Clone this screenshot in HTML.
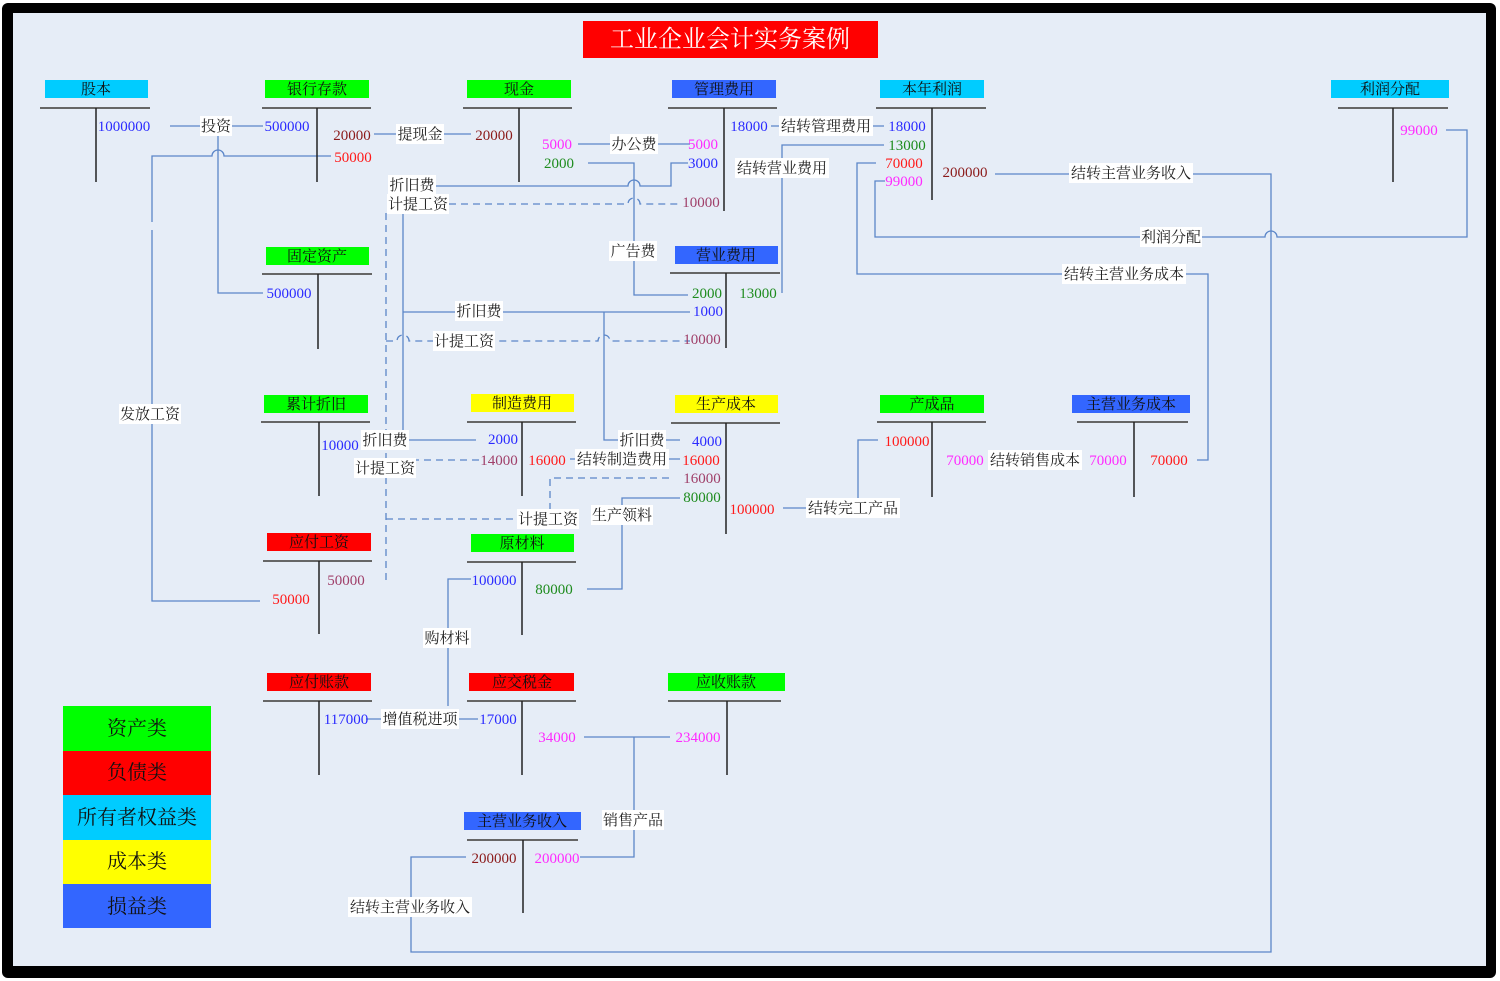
<!DOCTYPE html>
<html><head><meta charset="utf-8"><style>
html,body{margin:0;padding:0;background:#fff}
svg{display:block}
text{font-family:"Liberation Serif","Noto Serif CJK SC","Noto Sans CJK SC",serif;font-size:15px}
.h{font-size:15px;fill:#111;text-anchor:middle}
.n{text-anchor:middle}
.b{fill:#2b2bff}.m{fill:#ff2bff}.g{fill:#1e8c1e}.dr{fill:#8b1a1a}.r{fill:#ff1a1a}.p{fill:#a0406a}
.c{fill:none;stroke:#5b86c8;stroke-width:1.3}
.d{fill:none;stroke:#5b86c8;stroke-width:1.3;stroke-dasharray:7,5}
.hl{stroke:#666;stroke-width:2}
.vl{stroke:#222;stroke-width:1.5}
.lb{fill:#fff}
.lt{fill:#222;text-anchor:middle;font-size:15px}
</style></head><body>
<svg width="1500" height="981" viewBox="0 0 1500 981" xmlns="http://www.w3.org/2000/svg">
<rect x="2" y="3" width="1494" height="975" rx="6" fill="#000"/>
<rect x="13" y="13" width="1473" height="953" fill="#e6edf7"/>
<rect x="583" y="21" width="295" height="37" fill="#ff0000"/>
<text x="730" y="47" text-anchor="middle" style="font-size:24px;fill:#fff">工业企业会计实务案例</text>

<g>
<path class="c" d="M170 126H263"/>
<path class="c" d="M218 126V293H263"/>
<path class="c" d="M331 156H224a6 6 0 0 0 -12 0H152V222M152 230V601H260"/>
<path class="c" d="M374 134H471"/>
<path class="c" d="M578 144H690"/>
<path class="c" d="M588 163H634V295H688"/>
<path class="c" d="M688 163H671V186H640a6 6 0 0 0 -12 0H436"/>
<path class="c" d="M403 213V440H476"/>
<path class="c" d="M403 312H690"/>
<path class="c" d="M604 312V440H680"/>
<path class="d" d="M449 204H628a6 6 0 0 1 12 0H680"/>
<path class="d" d="M386 213V580"/>
<path class="d" d="M386 341H397a6 6 0 0 1 12 0H598a6 6 0 0 1 12 0H690"/>
<path class="d" d="M412 460H480"/>
<path class="d" d="M386 519H540"/>
<path class="d" d="M550 510V478H672"/>
<path class="c" d="M570 459H680"/>
<path class="c" d="M587 589H622V498H680"/>
<path class="c" d="M471 579H448V706"/>
<path class="c" d="M366 719H478"/>
<path class="c" d="M584 737H670M634 737V857H580"/>
<path class="c" d="M466 857H411V952H1271V174H995"/>
<path class="c" d="M783 508H900M858 498V440H878"/>
<path class="c" d="M1197 460H1208V274H857V163H876"/>
<path class="c" d="M1446 130H1467V237H1277a6 6 0 0 0 -12 0H875V181H885"/>
<path class="c" d="M771 126H884"/>
<path class="c" d="M782 293V145H884"/>
</g>

<g>
<rect x="45" y="80" width="103" height="18" fill="#00ccff"/><text class="h" x="96" y="94">股本</text>
<line class="hl" x1="40" y1="108" x2="150" y2="108"/><line class="vl" x1="96" y1="108" x2="96" y2="182"/>
<rect x="265" y="80" width="104" height="18" fill="#00ff00"/><text class="h" x="317" y="94">银行存款</text>
<line class="hl" x1="262" y1="108" x2="371" y2="108"/><line class="vl" x1="317" y1="108" x2="317" y2="182"/>
<rect x="467" y="80" width="104" height="18" fill="#00ff00"/><text class="h" x="519" y="94">现金</text>
<line class="hl" x1="463" y1="108" x2="572" y2="108"/><line class="vl" x1="519" y1="108" x2="519" y2="182"/>
<rect x="672" y="80" width="104" height="18" fill="#3366ff"/><text class="h" x="724" y="94">管理费用</text>
<line class="hl" x1="668" y1="108" x2="777" y2="108"/><line class="vl" x1="724" y1="108" x2="724" y2="211"/>
<rect x="880" y="80" width="104" height="18" fill="#00ccff"/><text class="h" x="932" y="94">本年利润</text>
<line class="hl" x1="876" y1="108" x2="986" y2="108"/><line class="vl" x1="932" y1="108" x2="932" y2="200"/>
<rect x="1331" y="80" width="118" height="18" fill="#00ccff"/><text class="h" x="1390" y="94">利润分配</text>
<line class="hl" x1="1338" y1="108" x2="1448" y2="108"/><line class="vl" x1="1393" y1="108" x2="1393" y2="182"/>
<rect x="266" y="247" width="103" height="18" fill="#00ff00"/><text class="h" x="317" y="261">固定资产</text>
<line class="hl" x1="262" y1="274" x2="372" y2="274"/><line class="vl" x1="318" y1="274" x2="318" y2="349"/>
<rect x="675" y="246" width="103" height="18" fill="#3366ff"/><text class="h" x="726" y="260">营业费用</text>
<line class="hl" x1="670" y1="273" x2="780" y2="273"/><line class="vl" x1="726" y1="273" x2="726" y2="348"/>
<rect x="264" y="395" width="104" height="18" fill="#00ff00"/><text class="h" x="316" y="409">累计折旧</text>
<line class="hl" x1="261" y1="422" x2="370" y2="422"/><line class="vl" x1="319" y1="422" x2="319" y2="496"/>
<rect x="471" y="394" width="103" height="18" fill="#ffff00"/><text class="h" x="522" y="408">制造费用</text>
<line class="hl" x1="467" y1="422" x2="576" y2="422"/><line class="vl" x1="522" y1="422" x2="522" y2="496"/>
<rect x="675" y="395" width="103" height="18" fill="#ffff00"/><text class="h" x="726" y="409">生产成本</text>
<line class="hl" x1="671" y1="423" x2="780" y2="423"/><line class="vl" x1="726" y1="423" x2="726" y2="534"/>
<rect x="880" y="395" width="104" height="18" fill="#00ff00"/><text class="h" x="932" y="409">产成品</text>
<line class="hl" x1="877" y1="422" x2="986" y2="422"/><line class="vl" x1="932" y1="422" x2="932" y2="497"/>
<rect x="1072" y="395" width="118" height="18" fill="#3366ff"/><text class="h" x="1131" y="409">主营业务成本</text>
<line class="hl" x1="1077" y1="422" x2="1188" y2="422"/><line class="vl" x1="1134" y1="422" x2="1134" y2="497"/>
<rect x="267" y="533" width="104" height="18" fill="#ff0000"/><text class="h" x="319" y="547">应付工资</text>
<line class="hl" x1="263" y1="561" x2="372" y2="561"/><line class="vl" x1="319" y1="561" x2="319" y2="634"/>
<rect x="471" y="534" width="103" height="18" fill="#00ff00"/><text class="h" x="522" y="548">原材料</text>
<line class="hl" x1="467" y1="562" x2="576" y2="562"/><line class="vl" x1="522" y1="562" x2="522" y2="635"/>
<rect x="267" y="673" width="104" height="18" fill="#ff0000"/><text class="h" x="319" y="687">应付账款</text>
<line class="hl" x1="263" y1="701" x2="372" y2="701"/><line class="vl" x1="319" y1="701" x2="319" y2="775"/>
<rect x="469" y="673" width="105" height="18" fill="#ff0000"/><text class="h" x="522" y="687">应交税金</text>
<line class="hl" x1="467" y1="701" x2="576" y2="701"/><line class="vl" x1="522" y1="701" x2="522" y2="775"/>
<rect x="668" y="673" width="117" height="18" fill="#00ff00"/><text class="h" x="726" y="687">应收账款</text>
<line class="hl" x1="668" y1="701" x2="781" y2="701"/><line class="vl" x1="727" y1="701" x2="727" y2="775"/>
<rect x="464" y="812" width="117" height="18" fill="#3366ff"/><text class="h" x="522" y="826">主营业务收入</text>
<line class="hl" x1="467" y1="840" x2="578" y2="840"/><line class="vl" x1="523" y1="840" x2="523" y2="913"/>
</g>

<g class="n">
<text class="n b" x="124" y="131">1000000</text>
<text class="n b" x="287" y="131">500000</text>
<text class="n dr" x="352" y="140">20000</text>
<text class="n r" x="353" y="162">50000</text>
<text class="n dr" x="494" y="140">20000</text>
<text class="n m" x="557" y="149">5000</text>
<text class="n g" x="559" y="168">2000</text>
<text class="n m" x="703" y="149">5000</text>
<text class="n b" x="703" y="168">3000</text>
<text class="n p" x="701" y="207">10000</text>
<text class="n b" x="749" y="131">18000</text>
<text class="n b" x="907" y="131">18000</text>
<text class="n g" x="907" y="150">13000</text>
<text class="n r" x="904" y="168">70000</text>
<text class="n m" x="904" y="186">99000</text>
<text class="n dr" x="965" y="177">200000</text>
<text class="n m" x="1419" y="135">99000</text>
<text class="n b" x="289" y="298">500000</text>
<text class="n g" x="707" y="298">2000</text>
<text class="n g" x="758" y="298">13000</text>
<text class="n b" x="708" y="316">1000</text>
<text class="n p" x="702" y="344">10000</text>
<text class="n b" x="340" y="450">10000</text>
<text class="n b" x="503" y="444">2000</text>
<text class="n p" x="499" y="465">14000</text>
<text class="n r" x="547" y="465">16000</text>
<text class="n b" x="707" y="446">4000</text>
<text class="n r" x="701" y="465">16000</text>
<text class="n p" x="702" y="483">16000</text>
<text class="n g" x="702" y="502">80000</text>
<text class="n r" x="752" y="514">100000</text>
<text class="n r" x="907" y="446">100000</text>
<text class="n m" x="965" y="465">70000</text>
<text class="n m" x="1108" y="465">70000</text>
<text class="n r" x="1169" y="465">70000</text>
<text class="n p" x="346" y="585">50000</text>
<text class="n r" x="291" y="604">50000</text>
<text class="n b" x="494" y="585">100000</text>
<text class="n g" x="554" y="594">80000</text>
<text class="n b" x="346" y="724">117000</text>
<text class="n b" x="498" y="724">17000</text>
<text class="n m" x="557" y="742">34000</text>
<text class="n m" x="698" y="742">234000</text>
<text class="n dr" x="494" y="863">200000</text>
<text class="n m" x="557" y="863">200000</text>
</g>

<g>
<rect class="lb" x="200" y="116" width="32" height="20"/><text class="lt" x="216" y="131">投资</text>
<rect class="lb" x="396" y="124" width="48" height="20"/><text class="lt" x="420" y="139">提现金</text>
<rect class="lb" x="610" y="134" width="48" height="20"/><text class="lt" x="634" y="149">办公费</text>
<rect class="lb" x="388" y="175" width="48" height="20"/><text class="lt" x="412" y="190">折旧费</text>
<rect class="lb" x="387" y="194" width="62" height="20"/><text class="lt" x="418" y="209">计提工资</text>
<rect class="lb" x="779" y="116" width="94" height="20"/><text class="lt" x="826" y="131">结转管理费用</text>
<rect class="lb" x="735" y="158" width="94" height="20"/><text class="lt" x="782" y="173">结转营业费用</text>
<rect class="lb" x="1069" y="163" width="124" height="20"/><text class="lt" x="1131" y="178">结转主营业务收入</text>
<rect class="lb" x="609" y="241" width="48" height="20"/><text class="lt" x="633" y="256">广告费</text>
<rect class="lb" x="1140" y="227" width="62" height="20"/><text class="lt" x="1171" y="242">利润分配</text>
<rect class="lb" x="1062" y="264" width="124" height="20"/><text class="lt" x="1124" y="279">结转主营业务成本</text>
<rect class="lb" x="455" y="301" width="48" height="20"/><text class="lt" x="479" y="316">折旧费</text>
<rect class="lb" x="433" y="331" width="62" height="20"/><text class="lt" x="464" y="346">计提工资</text>
<rect class="lb" x="119" y="404" width="62" height="20"/><text class="lt" x="150" y="419">发放工资</text>
<rect class="lb" x="361" y="430" width="48" height="20"/><text class="lt" x="385" y="445">折旧费</text>
<rect class="lb" x="354" y="458" width="62" height="20"/><text class="lt" x="385" y="473">计提工资</text>
<rect class="lb" x="618" y="430" width="48" height="20"/><text class="lt" x="642" y="445">折旧费</text>
<rect class="lb" x="575" y="449" width="94" height="20"/><text class="lt" x="622" y="464">结转制造费用</text>
<rect class="lb" x="517" y="509" width="62" height="20"/><text class="lt" x="548" y="524">计提工资</text>
<rect class="lb" x="591" y="505" width="62" height="20"/><text class="lt" x="622" y="520">生产领料</text>
<rect class="lb" x="806" y="498" width="94" height="20"/><text class="lt" x="853" y="513">结转完工产品</text>
<rect class="lb" x="988" y="450" width="94" height="20"/><text class="lt" x="1035" y="465">结转销售成本</text>
<rect class="lb" x="423" y="628" width="48" height="20"/><text class="lt" x="447" y="643">购材料</text>
<rect class="lb" x="381" y="709" width="78" height="20"/><text class="lt" x="420" y="724">增值税进项</text>
<rect class="lb" x="602" y="810" width="62" height="20"/><text class="lt" x="633" y="825">销售产品</text>
<rect class="lb" x="348" y="897" width="124" height="20"/><text class="lt" x="410" y="912">结转主营业务收入</text>
</g>

<g>
<rect x="63" y="706" width="148" height="45" fill="#00ff00"/>
<rect x="63" y="751" width="148" height="44" fill="#ff0000"/>
<rect x="63" y="795" width="148" height="45" fill="#00ccff"/>
<rect x="63" y="840" width="148" height="44" fill="#ffff00"/>
<rect x="63" y="884" width="148" height="44" fill="#3366ff"/>
<text x="137" y="735" text-anchor="middle" style="font-size:20px;fill:#111">资产类</text>
<text x="137" y="779" text-anchor="middle" style="font-size:20px;fill:#111">负债类</text>
<text x="137" y="824" text-anchor="middle" style="font-size:20px;fill:#111">所有者权益类</text>
<text x="137" y="868" text-anchor="middle" style="font-size:20px;fill:#111">成本类</text>
<text x="137" y="913" text-anchor="middle" style="font-size:20px;fill:#111">损益类</text>
</g>
</svg>
</body></html>
